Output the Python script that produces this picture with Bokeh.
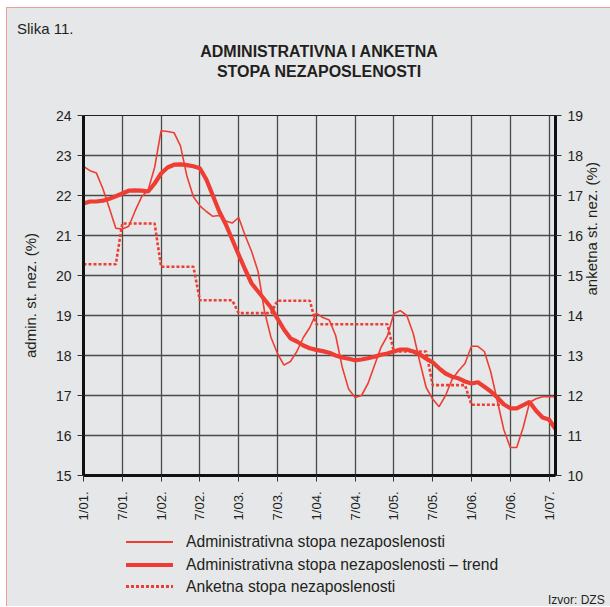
from math import pi
from bokeh.plotting import figure
from bokeh.layouts import column
from bokeh.models import Range1d, LinearAxis, FixedTicker, Div
from bokeh.embed import file_html
from bokeh.resources import INLINE

# ---------------- data (month index 0 = 1/01.) ----------------
months = list(range(74))
tick_months = [0, 6, 12, 18, 24, 30, 36, 42, 48, 54, 60, 66, 72]
tick_labels = ["1/01.", "7/01.", "1/02.", "7/02.", "1/03.", "7/03.", "1/04.",
               "7/04.", "1/05.", "7/05.", "1/06.", "7/06.", "1/07."]

admin = [22.73, 22.62, 22.56, 22.17, 21.68, 21.18, 21.16, 21.23, 21.62, 21.97,
         22.14, 22.70, 23.62, 23.60, 23.57, 23.24, 22.48, 21.97, 21.74, 21.60,
         21.48, 21.50, 21.36, 21.31, 21.45, 21.00, 20.60, 20.10, 19.10, 18.45,
         18.05, 17.76, 17.85, 18.10, 18.45, 18.70, 19.06, 18.95, 18.89, 18.50,
         17.72, 17.16, 16.95, 17.00, 17.30, 17.75, 18.20, 18.49, 19.05, 19.12,
         19.00, 18.55, 17.85, 17.20, 16.91, 16.72, 17.00, 17.40, 17.62, 17.80,
         18.23, 18.23, 18.10, 17.58, 16.87, 16.15, 15.70, 15.70, 16.20, 16.83,
         16.92, 16.97, 16.97, 16.97]

trend = [21.80, 21.85, 21.85, 21.87, 21.92, 21.98, 22.05, 22.12, 22.13, 22.12,
         22.10, 22.30, 22.55, 22.70, 22.77, 22.78, 22.76, 22.73, 22.68, 22.40,
         22.00, 21.60, 21.28, 20.90, 20.52, 20.15, 19.80, 19.60, 19.40, 19.20,
         18.92, 18.65, 18.43, 18.35, 18.25, 18.18, 18.14, 18.11, 18.07, 18.00,
         17.95, 17.92, 17.88, 17.90, 17.93, 17.97, 18.02, 18.05, 18.10, 18.15,
         18.15, 18.10, 18.03, 17.92, 17.83, 17.68, 17.55, 17.47, 17.43, 17.35,
         17.30, 17.33, 17.22, 17.10, 16.95, 16.78, 16.68, 16.68, 16.76, 16.84,
         16.62, 16.45, 16.40, 16.16]

survey_months = list(range(66))
survey = [15.28, 15.28, 15.28, 15.28, 15.28, 15.28,
          16.30, 16.30, 16.30, 16.30, 16.30, 16.30,
          15.22, 15.22, 15.22, 15.22, 15.22, 15.22,
          14.38, 14.38, 14.38, 14.38, 14.38, 14.38,
          14.06, 14.06, 14.06, 14.06, 14.06, 14.06,
          14.37, 14.37, 14.37, 14.37, 14.37, 14.37,
          13.78, 13.78, 13.78, 13.78, 13.78, 13.78,
          13.78, 13.78, 13.78, 13.78, 13.78, 13.78,
          13.10, 13.10, 13.10, 13.10, 13.10, 13.10,
          12.26, 12.26, 12.26, 12.26, 12.26, 12.26,
          11.77, 11.77, 11.77, 11.77, 11.77, 11.77]

series_names = ["Administrativna stopa nezaposlenosti",
                "Administrativna stopa nezaposlenosti \u2013 trend",
                "Anketna stopa nezaposlenosti"]
figure_label = "Slika 11."
title_lines = ["ADMINISTRATIVNA I ANKETNA", "STOPA NEZAPOSLENOSTI"]
left_label = "admin. st. nez. (%)"
right_label = "anketna st. nez. (%)"
source_label = "Izvor: DZS"

# ---------------- styling ----------------
RED = "#ee3e33"
BG = "#e6e7e9"
TXT = "#231f20"
FONT = "Liberation Sans"

W = 602
TOP_H = 97
FL, FT, FW, FH, FB = 76, 10, 472, 360, 55
LEG_H = 76
THIN, THICK, DOT = 1.6, 4.2, 2.6


def box(style, content=""):
    return f'<div style="position:absolute;white-space:nowrap;{style}">{content}</div>'


def container(h, inner):
    return (f'<div style="position:relative;width:{W}px;height:{h}px;overflow:hidden;'
            f'background:{BG};font-family:\'{FONT}\',sans-serif;color:{TXT};">{inner}</div>')

# ---------------- header ----------------
head_html = container(TOP_H,
    box("left:10px;top:12.6px;font-size:15px;line-height:15px;", figure_label) +
    box(f"left:{FL}px;width:{FW}px;top:36.2px;font-size:16px;line-height:16px;"
        "font-weight:bold;text-align:center;", title_lines[0]) +
    box(f"left:{FL}px;width:{FW}px;top:55.7px;font-size:16px;line-height:16px;"
        "font-weight:bold;text-align:center;", title_lines[1]))
head = Div(text=head_html, width=W, height=TOP_H, margin=0,
           styles={"background-color": BG})

# ---------------- main chart ----------------
p = figure(frame_width=FW, frame_height=FH, output_backend="svg", toolbar_location=None,
           x_range=Range1d(0, 73), y_range=Range1d(15, 24),
           min_border_left=FL, min_border_top=FT,
           min_border_right=W - FL - FW, min_border_bottom=FB,
           background_fill_color=BG, border_fill_color=BG,
           outline_line_color="#222222", outline_line_width=1.2)
p.extra_y_ranges = {"right": Range1d(10, 19)}

p.xgrid.ticker = FixedTicker(ticks=tick_months)
p.ygrid.ticker = FixedTicker(ticks=list(range(15, 25)))
for g in (p.xgrid, p.ygrid):
    g.grid_line_color = "#4a4a4a"
    g.grid_line_width = 1.3

xa = p.xaxis[0]
xa.ticker = FixedTicker(ticks=tick_months)
xa.major_label_overrides = {m: l for m, l in zip(tick_months, tick_labels)}
xa.major_label_orientation = pi / 2
ya = p.yaxis[0]
ya.ticker = FixedTicker(ticks=list(range(15, 25)))
ra = LinearAxis(y_range_name="right", ticker=FixedTicker(ticks=list(range(10, 20))))
p.add_layout(ra, "right")
for ax in (xa, ya, ra):
    ax.axis_line_color = "#111111"
    ax.axis_line_width = 3
    ax.major_tick_line_color = "#333333"
    ax.major_tick_line_width = 1
    ax.major_tick_in = 0
    ax.major_tick_out = 6
    ax.minor_tick_line_color = None
    ax.major_label_text_font = FONT
    ax.major_label_text_color = TXT
    ax.major_label_text_font_size = "14px"
    ax.major_label_standoff = 6
    ax.axis_label_text_font = FONT
    ax.axis_label_text_font_size = "15px"
    ax.axis_label_text_font_style = "normal"
    ax.axis_label_text_color = TXT
xa.major_label_text_font_size = "13px"
xa.major_label_standoff = 10
ya.axis_label = left_label
ya.axis_label_standoff = 14
ra.axis_label = right_label
ra.axis_label_standoff = 5
ra.axis_label_orientation = pi / 2

p.line(survey_months, survey, y_range_name="right", line_color=RED,
       line_width=DOT, line_dash="3 2")
p.line(months, admin, line_color=RED, line_width=THIN)
p.line(months, trend, line_color=RED, line_width=THICK)

# ---------------- legend + source strip ----------------
rows = [12, 35, 56.5]
samples = [f"background:{RED};height:{THIN}px;",
           f"background:{RED};height:{THICK}px;",
           f"background:repeating-linear-gradient(to right,{RED} 0 3px,transparent 3px 5px);height:{DOT}px;"]
heights = [THIN, THICK, DOT]
leg_inner = ""
for name, c, smp, h in zip(series_names, rows, samples, heights):
    leg_inner += box(f"left:119px;width:47px;top:{c - h / 2}px;{smp}")
    leg_inner += box(f"left:179px;top:{c - 7.7}px;font-size:15.7px;line-height:15.7px;", name)
leg_inner += box("left:541px;top:64.2px;font-size:12px;line-height:12px;", source_label)
foot = Div(text=container(LEG_H, leg_inner), width=W, height=LEG_H, margin=0,
           styles={"background-color": BG})

layout = column(head, p, foot, spacing=0)
layout.styles = {"margin-left": "6px", "margin-top": "7px",
                 "border-left": "1px solid #f09a9a", "border-top": "1px solid #f09a9a",
                 "background-color": BG}

open("out.html", "w").write(file_html(layout, INLINE))
